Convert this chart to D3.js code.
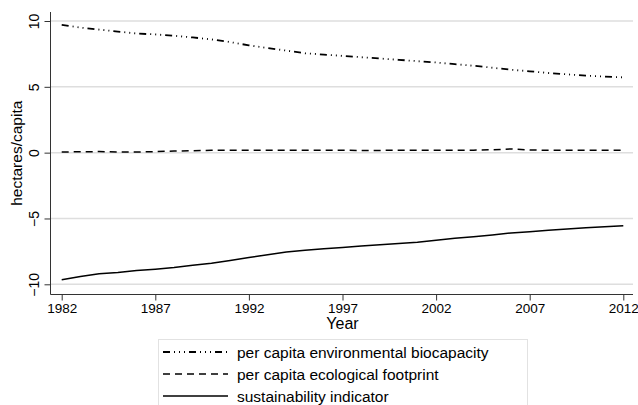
<!DOCTYPE html>
<html>
  <head>
    <meta charset="utf-8" />
    <title>hectares per capita</title>
  </head>

  <style>
    body {
      background: #fff;
      margin: 0px;
      padding: 0px;
      overflow: hidden;
    }

    text {
      font-family: "Liberation Sans", Arial, sans-serif;
      fill: #000;
    }

    .grid line {
      stroke: #dedede;
      stroke-width: 1.5;
    }

    .series {
      fill: none;
      stroke: #000;
      stroke-linejoin: round;
    }
  </style>

  <body>
    <script src="https://cdnjs.cloudflare.com/ajax/libs/d3/7.8.5/d3.min.js"></script>

    <script>

      var years = d3.range(1982, 2013);

      var biocapacity = [9.7, 9.5, 9.35, 9.2, 9.05, 8.98, 8.88, 8.75, 8.6, 8.4,
                         8.15, 7.95, 7.75, 7.55, 7.45, 7.35, 7.25, 7.15, 7.05, 6.95,
                         6.85, 6.72, 6.6, 6.45, 6.3, 6.18, 6.05, 5.95, 5.85, 5.78, 5.72];

      var footprint = [0.05, 0.07, 0.08, 0.05, 0.05, 0.08, 0.12, 0.15, 0.18, 0.18,
                       0.18, 0.18, 0.18, 0.18, 0.18, 0.18, 0.17, 0.17, 0.18, 0.18,
                       0.18, 0.18, 0.19, 0.22, 0.28, 0.2, 0.18, 0.18, 0.18, 0.18, 0.18];

      var sustainability = [-9.65, -9.4, -9.2, -9.1, -8.95, -8.85, -8.72, -8.55, -8.4, -8.2,
                            -7.97, -7.75, -7.55, -7.42, -7.3, -7.2, -7.1, -7.0, -6.9, -6.8,
                            -6.65, -6.5, -6.38, -6.25, -6.1, -6.0, -5.9, -5.8, -5.7, -5.62, -5.55];

      var xTicks = [1982, 1987, 1992, 1997, 2002, 2007, 2012];
      var yTicks = [-10, -5, 0, 5, 10];

      var legendLabels = ["per capita environmental biocapacity",
                          "per capita ecological footprint",
                          "sustainability indicator"];

      var dashes = ["7,4,1,4,1,4,1,4", "7,5", null];

      var width = 638, height = 405;

      var svg = d3.select("body").append("svg")
          .attr("width", width)
          .attr("height", height);

      var x = d3.scaleLinear()
          .domain([1982, 2012])
          .range([61.7, 623.3]);

      var y = d3.scaleLinear()
          .domain([-10, 10])
          .range([284.3, 21]);

      var plotLeft = 50.5, plotRight = 633, plotTop = 12, plotBottom = 294.5;

      // gridlines
      svg.append("g")
          .attr("class", "grid")
        .selectAll("line")
          .data(yTicks)
        .enter().append("line")
          .attr("x1", plotLeft)
          .attr("x2", plotRight)
          .attr("y1", function(d) { return y(d); })
          .attr("y2", function(d) { return y(d); });

      // y axis
      var yAxis = svg.append("g")
          .attr("transform", "translate(" + plotLeft + ",0)")
          .call(d3.axisLeft(y).tickValues(yTicks).tickSize(6).tickSizeOuter(0)
                .tickFormat(d3.format("d")));

      yAxis.select(".domain").attr("d", "M0," + plotTop + "V" + plotBottom).attr("stroke", "#333");
      yAxis.selectAll(".tick line").attr("stroke", "#333");
      yAxis.selectAll(".tick text")
          .attr("x", null).attr("dy", null)
          .attr("transform", "translate(-17,0) rotate(-90)")
          .attr("text-anchor", "middle")
          .attr("dominant-baseline", "central")
          .style("font-size", "14px")
          .style("font-family", "Liberation Sans, Arial, sans-serif");

      // x axis
      var xAxis = svg.append("g")
          .attr("transform", "translate(0," + plotBottom + ")")
          .call(d3.axisBottom(x).tickValues(xTicks).tickSize(6).tickSizeOuter(0)
                .tickFormat(d3.format("d")));

      xAxis.select(".domain").attr("d", "M" + plotLeft + ",0H" + plotRight).attr("stroke", "#333");
      xAxis.selectAll(".tick line").attr("stroke", "#333");
      xAxis.selectAll(".tick text")
          .attr("y", 9)
          .style("font-size", "13.5px")
          .style("font-family", "Liberation Sans, Arial, sans-serif");

      // axis titles
      svg.append("text")
          .attr("transform", "translate(16," + ((plotTop + plotBottom) / 2) + ") rotate(-90)")
          .attr("text-anchor", "middle")
          .attr("dominant-baseline", "central")
          .style("font-size", "15.5px")
          .text("hectares/capita");

      svg.append("text")
          .attr("x", (x(1982) + x(2012)) / 2)
          .attr("y", 329)
          .attr("text-anchor", "middle")
          .style("font-size", "16px")
          .text("Year");

      // series
      var line = d3.line()
          .x(function(d, i) { return x(years[i]); })
          .y(function(d) { return y(d); });

      var series = [biocapacity, footprint, sustainability];

      svg.selectAll(".series")
          .data(series)
        .enter().append("path")
          .attr("class", "series")
          .attr("stroke-width", function(d, i) { return i == 0 ? 1.8 : 1.5; })
          .attr("stroke-dasharray", function(d, i) { return dashes[i]; })
          .attr("d", line);

      // legend
      var legend = svg.append("g");

      legend.append("rect")
          .attr("x", 158.5)
          .attr("y", 339.5)
          .attr("width", 369)
          .attr("height", 80)
          .attr("fill", "#fff")
          .attr("stroke", "#e2e2e2");

      var rows = legend.selectAll(".row")
          .data(legendLabels)
        .enter().append("g")
          .attr("class", "row")
          .attr("transform", function(d, i) { return "translate(0," + (352 + i * 22) + ")"; });

      rows.append("line")
          .attr("x1", 163)
          .attr("x2", 228)
          .attr("stroke", "#000")
          .attr("stroke-width", function(d, i) { return i == 0 ? 1.8 : 1.5; })
          .attr("stroke-dasharray", function(d, i) { return dashes[i]; });

      rows.append("text")
          .attr("x", 237)
          .attr("dominant-baseline", "central")
          .style("font-size", "15.5px")
          .text(function(d) { return d; });

    </script>
  </body>
</html>
